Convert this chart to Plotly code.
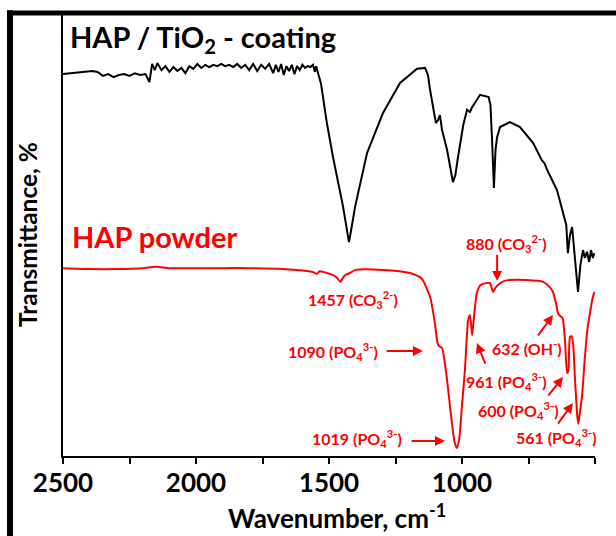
import plotly.graph_objects as go

# ---------------- data ----------------
coating_wn = [2500, 2460, 2420, 2390, 2370, 2350, 2330, 2310, 2290, 2270, 2250, 2230, 2210, 2190,
              2175, 2165, 2155, 2145, 2130, 2115, 2100, 2085, 2070, 2055, 2040, 2025, 2010, 1995,
              1980, 1965, 1950, 1935, 1920, 1905, 1890, 1875, 1860, 1845, 1830, 1815, 1800, 1785,
              1770, 1755, 1740, 1725, 1710, 1700, 1690, 1680, 1670, 1660, 1650, 1640, 1630, 1620,
              1610, 1600, 1590, 1580, 1570, 1560, 1553, 1548, 1541, 1530, 1508, 1485, 1447, 1430,
              1425, 1418, 1402, 1357, 1297, 1233, 1169, 1139, 1128, 1120, 1098, 1090, 1083, 1075,
              1056, 1034, 1025, 1015, 995, 981, 970, 962, 932, 900, 893, 887, 880, 874, 868, 857,
              820, 782, 733, 700, 690, 680, 660, 643, 620, 608, 602, 594, 586, 575, 564, 555, 545,
              538, 530, 522, 515, 508, 503]
coating_T = [86.6, 86.8, 87.1, 87.3, 87.1, 86.2, 86.6, 85.9, 86.4, 86.6, 86.2, 86.8, 86.4, 86.6,
             84.8, 88.9, 87.5, 89.1, 87.5, 88.4, 87.1, 88.2, 87.3, 88.0, 86.8, 88.4, 87.8, 88.9,
             88.0, 88.7, 88.2, 88.7, 88.4, 88.9, 88.4, 88.7, 88.2, 88.9, 88.0, 88.7, 87.5, 88.9,
             87.3, 88.7, 87.8, 88.9, 86.8, 88.7, 87.1, 88.9, 86.4, 88.4, 87.3, 88.7, 86.6, 88.4,
             87.5, 88.7, 88.0, 88.4, 88.2, 88.7, 87.1, 88.4, 86.8, 84.4, 75.5, 67.8, 56.5, 50.1,
             48.5, 50.8, 56.5, 68.7, 77.8, 84.6, 87.8, 88.0, 86.4, 83.0, 75.5, 76.2, 77.3, 73.9,
             69.4, 62.1, 63.7, 67.8, 75.1, 78.5, 78.0, 79.1, 81.9, 81.4, 79.6, 71.7, 60.8, 69.4,
             72.3, 74.6, 75.7, 74.6, 71.0, 67.1, 66.4, 64.9, 62.6, 60.3, 55.1, 52.4, 46.0, 50.1,
             51.9, 45.1, 37.2, 43.3, 46.7, 44.9, 46.3, 44.0, 46.7, 44.9, 46.0]

powder_wn = [2500, 2400, 2300, 2200, 2150, 2100, 2000, 1900, 1800, 1673, 1560, 1545, 1535, 1485,
             1470, 1457, 1448, 1440, 1421, 1400, 1297, 1195, 1160, 1147, 1130, 1120, 1102, 1092,
             1085, 1075, 1065, 1056, 1038, 1028, 1019, 1010, 1000, 989, 977, 970, 962, 955, 944,
             930, 910, 895, 883, 875, 865, 840, 820, 760, 695, 670, 658, 645, 639, 630, 622, 613,
             605, 600, 594, 588, 582, 575, 567, 563, 558, 549, 538, 528, 519, 508, 502]
powder_T = [42.6, 42.4, 42.4, 42.6, 42.9, 42.6, 42.6, 42.6, 42.6, 42.4, 41.7, 41.3, 41.9, 41.0,
            40.4, 39.5, 40.4, 41.0, 41.5, 42.2, 42.2, 41.5, 40.6, 39.9, 37.6, 36.1, 30.2, 25.6,
            24.9, 24.5, 21.3, 17.2, 7.5, 3.2, 1.8, 4.1, 11.6, 19.5, 30.8, 32.0, 27.4, 31.5, 37.0,
            38.8, 39.2, 39.2, 37.2, 38.1, 38.8, 39.7, 39.9, 39.9, 39.5, 38.3, 37.2, 34.2, 32.4,
            31.7, 31.3, 26.3, 18.8, 19.5, 27.0, 27.2, 25.2, 17.2, 9.3, 7.3, 9.3, 13.4, 22.4,
            29.0, 32.4, 36.1, 37.2]

tick_vals = [2500, 2250, 2000, 1750, 1500, 1250, 1000, 750, 500]
tick_text = ["2500", "", "2000", "", "1500", "", "1000", "", "500"]

band_labels = ["880 (CO<sub>3</sub><sup>2-</sup>)", "1457 (CO<sub>3</sub><sup>2-</sup>)",
               "1090 (PO<sub>4</sub><sup>3-</sup>)", "961 (PO<sub>4</sub><sup>3-</sup>)",
               "632 (OH<sup>-</sup>)", "600 (PO<sub>4</sub><sup>3-</sup>)",
               "561 (PO<sub>4</sub><sup>3-</sup>)", "1019 (PO<sub>4</sub><sup>3-</sup>)"]

RED = "#ff0000"
FONT = "Lato"

# ---------------- figure ----------------
fig = go.Figure()
fig.add_trace(go.Scatter(x=coating_wn, y=coating_T, mode="lines",
                         line=dict(color="black", width=2), showlegend=False))
fig.add_trace(go.Scatter(x=powder_wn, y=powder_T, mode="lines",
                         line=dict(color=RED, width=2, shape="spline", smoothing=0.6),
                         showlegend=False))

ann = []
label_pos = [(831, 48.3), (1410, 35.4), (1485, 23.6), (831, 16.8),
             (756, 24.7), (789, 10.4), (643, 4.1), (1395, 3.9)]
for txt, (lx, ly) in zip(band_labels, label_pos):
    ann.append(dict(x=lx, y=ly, xref="x", yref="y", text="<b>" + txt + "</b>",
                    showarrow=False, font=dict(family=FONT, size=16, color=RED),
                    xanchor="center", yanchor="middle"))

arrows = [(868, 39.7, 868, 46.0), (1147, 23.8, 1289, 23.8), (944, 25.6, 910, 20.6),
          (658, 32.0, 718, 27.0), (620, 17.9, 680, 13.4), (583, 12.0, 643, 7.0),
          (1064, 3.4, 1195, 3.4)]
for hx, hy, tx, ty in arrows:
    ann.append(dict(x=hx, y=hy, ax=tx, ay=ty, xref="x", yref="y", axref="x", ayref="y",
                    text="", showarrow=True, arrowhead=2, arrowsize=1, arrowwidth=2,
                    arrowcolor=RED))

ann.append(dict(x=0.010, y=0.946, xref="paper", yref="paper", xanchor="left", yanchor="middle",
                text="<b>HAP / TiO<sub>2</sub> - coating</b>", showarrow=False,
                font=dict(family=FONT, size=29, color="black")))
ann.append(dict(x=0.014, y=0.497, xref="paper", yref="paper", xanchor="left", yanchor="middle",
                text="<b>HAP powder</b>", showarrow=False,
                font=dict(family=FONT, size=29, color=RED)))
ann.append(dict(x=-0.068, y=0.503, xref="paper", yref="paper", xanchor="center", yanchor="middle",
                text="<b>Transmittance, %</b>", textangle=-90, showarrow=False,
                font=dict(family=FONT, size=24.5, color="black")))
ann.append(dict(x=0.515, y=-0.138, xref="paper", yref="paper", xanchor="center", yanchor="middle",
                text="<b>Wavenumber, cm<sup>-1</sup></b>", showarrow=False,
                font=dict(family=FONT, size=26, color="black")))

shapes = [
    dict(type="line", xref="paper", yref="paper", x0=-0.0996, x1=-0.0996, y0=-0.19, y1=1.011,
         line=dict(color="black", width=6)),
    dict(type="line", xref="paper", yref="paper", x0=-0.105, x1=1.05, y0=1.0045, y1=1.0045,
         line=dict(color="black", width=5)),
]

fig.update_layout(
    width=616, height=536,
    margin=dict(l=63, r=21, t=15, b=80),
    paper_bgcolor="white", plot_bgcolor="white",
    annotations=ann, shapes=shapes,
    xaxis=dict(range=[2500, 500], tickvals=tick_vals, ticktext=tick_text,
               ticks="outside", ticklen=6, tickwidth=1.5, tickcolor="black",
               showline=True, linecolor="black", linewidth=2, showgrid=False, zeroline=False,
               ticklabelstandoff=-3,
               tickfont=dict(family=FONT, size=26, color="black", weight="bold")),
    yaxis=dict(range=[0, 100], showticklabels=False, ticks="", showline=True,
               linecolor="black", linewidth=2, showgrid=False, zeroline=False),
)

fig.write_html("out.html", config={"displayModeBar": False},
               post_script="document.body.style.margin='0';document.body.style.padding='0';")
